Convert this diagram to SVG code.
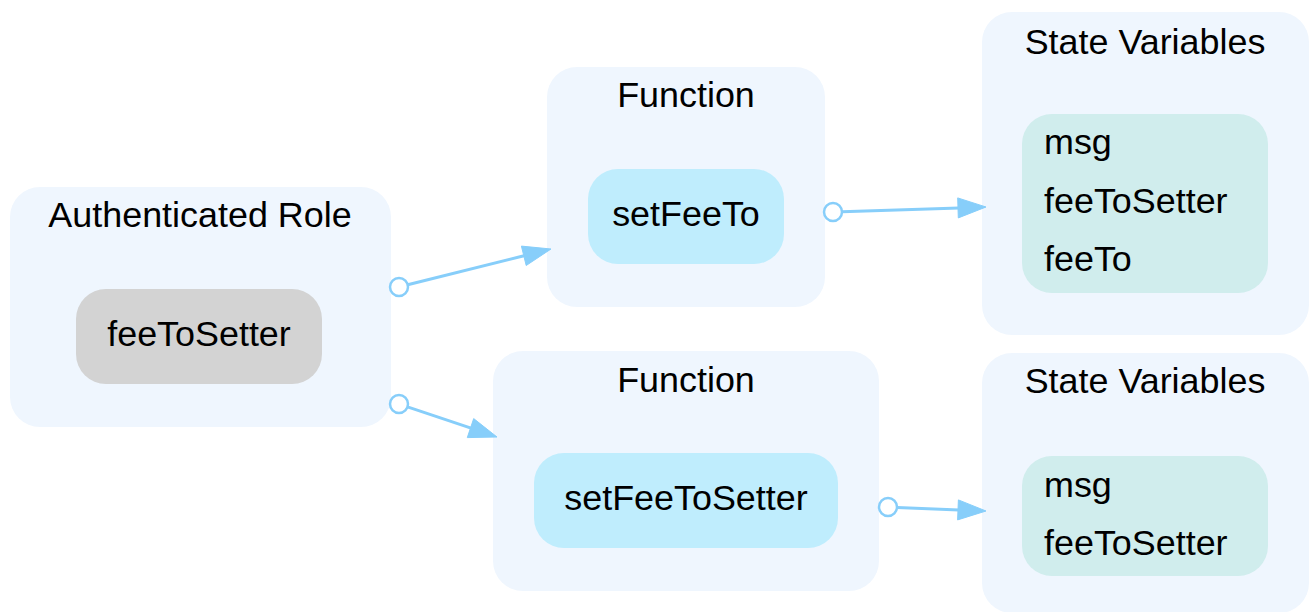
<svg xmlns="http://www.w3.org/2000/svg" width="1309" height="612" viewBox="0 0 1309 612">
<style>
.cluster{fill:#eff6fe;stroke:none}
.t{font-family:"Liberation Sans",Arial,sans-serif;font-size:35.9px;fill:#000}
.c{text-anchor:middle}
.edge{stroke:#87cefa;stroke-width:3;fill:none}
.dot{stroke:#87cefa;stroke-width:2.5;fill:#fff}
.head{fill:#87cefa;stroke:#87cefa;stroke-width:1}
</style>
<rect width="1309" height="612" fill="#fff"/>
<g id="auth">
<rect class="cluster" x="10" y="187" width="381" height="240" rx="30"/>
<text class="t c" x="200" y="227">Authenticated Role</text>
<rect x="76" y="289" width="246" height="95" rx="30" fill="#d3d3d3"/>
<text class="t c" x="199" y="346">feeToSetter</text>
</g>
<g id="func1">
<rect class="cluster" x="547" y="67" width="278" height="240" rx="30"/>
<text class="t c" x="686" y="107">Function</text>
<rect x="588" y="169" width="196" height="95" rx="30" fill="#bfedfd"/>
<text class="t c" x="686" y="226">setFeeTo</text>
</g>
<g id="func2">
<rect class="cluster" x="493" y="351" width="386" height="240" rx="30"/>
<text class="t c" x="686" y="392">Function</text>
<rect x="534" y="453" width="304" height="95" rx="30" fill="#bfedfd"/>
<text class="t c" x="686" y="510">setFeeToSetter</text>
</g>
<g id="state1">
<rect class="cluster" x="982" y="12" width="327" height="323" rx="30"/>
<text class="t c" x="1145" y="54">State Variables</text>
<rect x="1022" y="114" width="246" height="179" rx="30" fill="#d0eded"/>
<text class="t" x="1044" y="154">msg</text>
<text class="t" x="1044" y="213">feeToSetter</text>
<text class="t" x="1044" y="271">feeTo</text>
</g>
<g id="state2">
<rect class="cluster" x="982" y="353" width="327" height="260" rx="30"/>
<text class="t c" x="1145" y="393">State Variables</text>
<rect x="1022" y="456" width="246" height="120" rx="30" fill="#d0eded"/>
<text class="t" x="1044" y="497">msg</text>
<text class="t" x="1044" y="555">feeToSetter</text>
</g>
<g id="connectors">
<line class="edge" x1="407.7" y1="284.8" x2="524" y2="255.8"/>
<circle class="dot" cx="399" cy="287" r="9"/>
<polygon class="head" points="551,249 526.2,265.5 521.4,246.1"/>
<line class="edge" x1="407.5" y1="406.9" x2="471" y2="428.1"/>
<circle class="dot" cx="399" cy="404" r="9"/>
<polygon class="head" points="497,437 467.3,437.6 473.7,418.6"/>
<line class="edge" x1="842" y1="211.7" x2="959" y2="207.9"/>
<circle class="dot" cx="833" cy="212" r="9"/>
<polygon class="head" points="986,207 958.3,217.9 957.7,197.9"/>
<line class="edge" x1="897" y1="507.4" x2="959" y2="509.9"/>
<circle class="dot" cx="888" cy="507" r="9"/>
<polygon class="head" points="986,511 957.6,519.9 958.4,499.9"/>
</g>
</svg>
